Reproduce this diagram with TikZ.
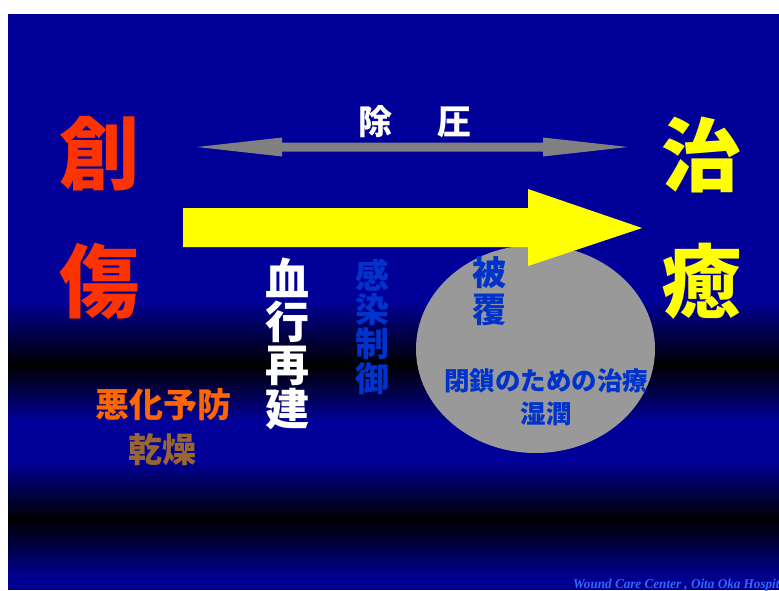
\documentclass[tikz,border=0pt]{standalone}
\usepackage{fontspec}
\newfontfamily\cjk{Noto Sans CJK JP}
\newfontfamily\footfont{Liberation Serif}
\definecolor{bgblue}{HTML}{000099}
\definecolor{bgnavy}{HTML}{000090}
\definecolor{wred}{HTML}{FF3300}
\definecolor{wyellow}{HTML}{FFFF00}
\definecolor{arrowgray}{HTML}{808080}
\definecolor{ellgray}{HTML}{999999}
\definecolor{tblue}{HTML}{0033CC}
\definecolor{torange}{HTML}{FF6600}
\definecolor{tbrown}{HTML}{996633}
\definecolor{footblue}{HTML}{3366FF}
\newcommand\JPf[2]{\cjk\bfseries\fontsize{#1}{#2}\selectfont}
\begin{document}
\begin{tikzpicture}[x=1pt,y=-1pt,
  jp/.style={inner sep=0pt, align=center},
  big/.style={jp, font=\JPf{80}{96}}]
\useasboundingbox (0,0) rectangle (779,590);
\fill[white] (0,0) rectangle (779,590);
% background
\fill[bgblue] (8,14) rectangle (779,301);
\shade[top color=bgblue,middle color=bgblue!72!black,bottom color=black] (8,300) rectangle (779,365);
\shade[top color=black,middle color=bgblue!72!black,bottom color=bgblue] (8,364.5) rectangle (779,421);
\fill[bgblue] (8,420) rectangle (779,461);
\shade[top color=bgblue,middle color=bgblue!68!black,bottom color=black] (8,460) rectangle (779,520);
\shade[top color=black,middle color=bgnavy!68!black,bottom color=bgnavy] (8,519.5) rectangle (779,576);
\fill[bgnavy] (8,575.5) rectangle (779,590);
% ellipse
\fill[ellgray] (535.5,349) ellipse [x radius=119.5, y radius=104];
% grey double arrow
\fill[arrowgray] (197,147) -- (282,137.5) -- (282,142.5) -- (543,142.5) -- (543,137.5)
  -- (628,147) -- (543,156.5) -- (543,151.5) -- (282,151.5) -- (282,156.5) -- cycle;
% yellow arrow
\fill[wyellow] (183,208) -- (528,208) -- (528,189) -- (642,228) -- (528,266)
  -- (528,247) -- (183,247) -- cycle;
% big words
\node[big, text=wred] (sou) at (99,154) {創};
\node[big, text=wred] (shou) at (99,281) {傷};
\node[big, text=wyellow] (ji) at (701,155) {治};
\node[big, text=wyellow] (yu) at (701,281) {癒};
% labels
\node[jp, font=\JPf{34}{40}, text=white] (joatsu) at (415,122) {除\hspace{46pt}圧};
\node[jp, font=\JPf{44}{43.3}, text=white] (kekko) at (287.5,343.5) {血\\行\\再\\建};
\node[jp, font=\JPf{34}{34.3}, text=tblue] (kansen) at (372,326.5) {感\\染\\制\\御};
\node[jp, font=\JPf{34}{37}, text=tblue] (hifuku) at (489.5,291.5) {被\\覆};
\node[jp, font=\JPf{25.5}{33}, text=tblue] (heisa) at (546,397.5) {閉鎖のための治療\\湿潤};
\node[jp, font=\JPf{34}{40}, text=torange] (akka) at (163,405) {悪化予防};
\node[jp, font=\JPf{34}{40}, text=tbrown] (kanso) at (162,450) {乾燥};
% footer
\node[anchor=base west, inner sep=0pt, font=\footfont\bfseries\itshape\fontsize{13.5}{16}\selectfont,
  text=footblue, xscale=0.975] (foot) at (573,588) {Wound Care Center , Oita Oka Hospit};
\end{tikzpicture}
\end{document}
